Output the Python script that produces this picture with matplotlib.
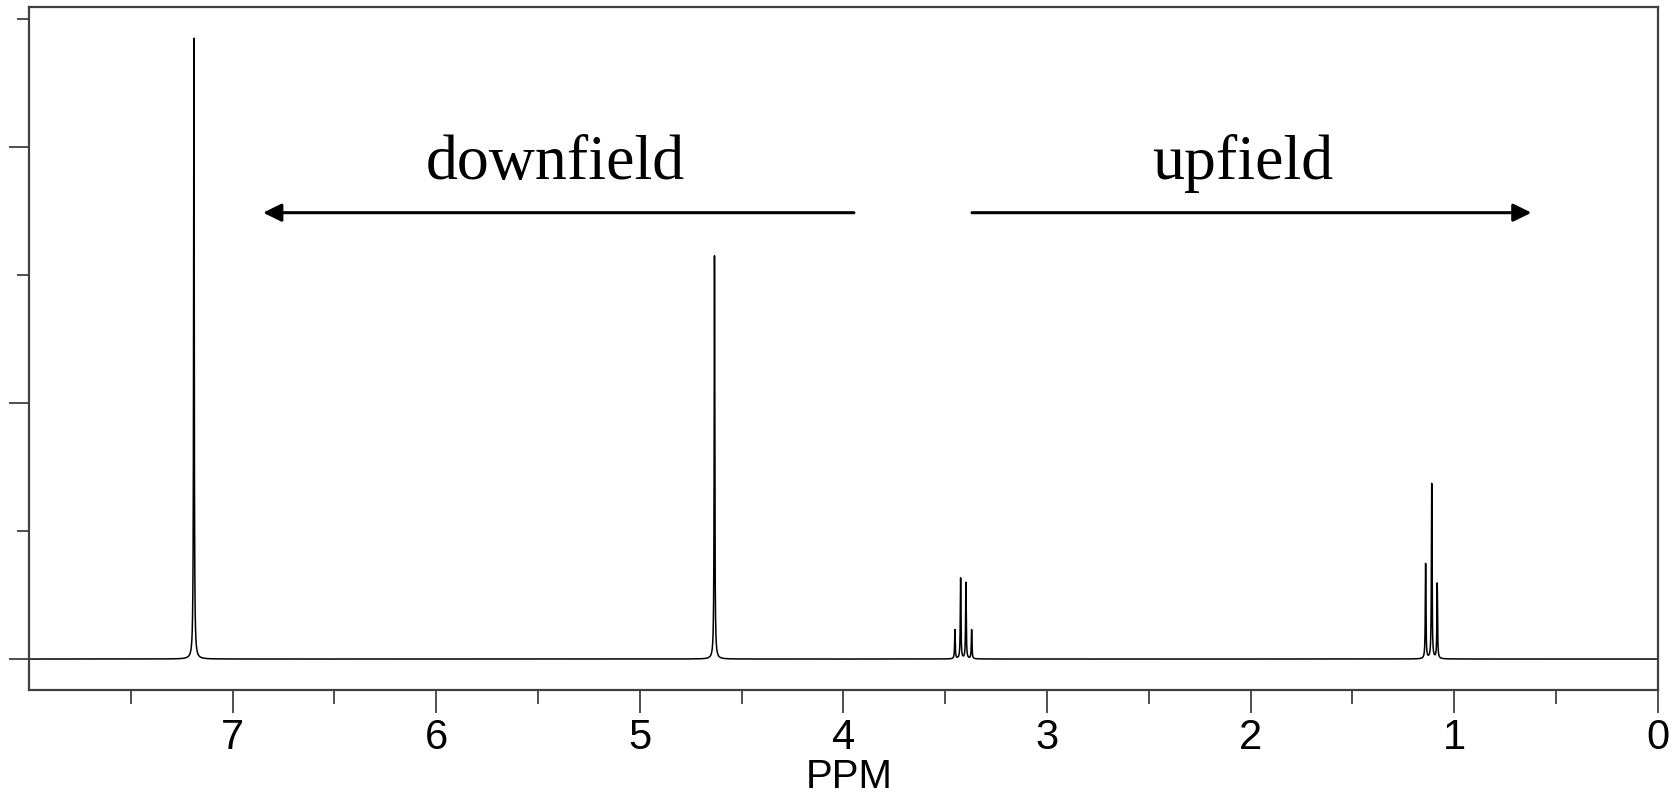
import numpy as np
import matplotlib
matplotlib.use("Agg")
import matplotlib.pyplot as plt

# Peak list (chemical shift in ppm, relative intensity)
peak_ppm = [7.190, 4.633, 3.452, 3.424, 3.398, 3.370, 1.140, 1.110, 1.083]
peak_height = [4.85, 3.15, 0.227, 0.63, 0.596, 0.227, 0.742, 1.367, 0.588]
peak_hwhm = 0.0018

x_ticks_major = [7, 6, 5, 4, 3, 2, 1, 0]
x_tick_labels = ["7", "6", "5", "4", "3", "2", "1", "0"]
x_ticks_minor = [7.5, 6.5, 5.5, 4.5, 3.5, 2.5, 1.5, 0.5]
y_ticks_major = [0, 2, 4]
y_ticks_minor = [1, 3, 5]

x_label = "PPM"
label_down = "downfield"
label_up = "upfield"

# spectrum from Lorentzian lines
ppm = np.linspace(8.0, 0.0, 80001)
intensity = np.zeros_like(ppm)
for p, h in zip(peak_ppm, peak_height):
    intensity += h / (1.0 + ((ppm - p) / peak_hwhm) ** 2)

fig = plt.figure(figsize=(16.75, 7.94), dpi=100)
ax = fig.add_axes([29 / 1675, 1 - 690 / 794, (1657.7 - 29) / 1675, (690 - 7) / 794])

ax.plot(ppm, intensity, color="black", lw=1.1)

ax.set_xlim(8.0, 0.0)
ax.set_ylim(-0.242, 5.094)

spine_color = "#404040"
for s in ax.spines.values():
    s.set_color(spine_color)
    s.set_linewidth(1.6)

ax.set_xticks(x_ticks_major)
ax.set_xticklabels(x_tick_labels, fontfamily="Liberation Sans", fontsize=30)
ax.set_xticks(x_ticks_minor, minor=True)
ax.set_yticks(y_ticks_major)
ax.set_yticks(y_ticks_minor, minor=True)
ax.set_yticklabels([])
ax.tick_params(axis="x", which="major", direction="out", length=16.5, width=1.3,
               color=spine_color, pad=4)
ax.tick_params(axis="x", which="minor", direction="out", length=10, width=1.3,
               color=spine_color)
ax.tick_params(axis="y", which="major", direction="out", length=14.5, width=1.3,
               color=spine_color)
ax.tick_params(axis="y", which="minor", direction="out", length=8.5, width=1.3,
               color=spine_color)

ax.set_xlabel(x_label, fontfamily="Liberation Sans", fontsize=29)
ax.xaxis.set_label_coords(0.5035, -0.128, transform=ax.transAxes)
ax.xaxis.label.set_va("center")

ax.text(5.417, 3.75, label_down, fontfamily="Liberation Serif", fontsize=46,
        ha="center", va="baseline")
ax.text(2.039, 3.75, label_up, fontfamily="Liberation Serif", fontsize=46,
        ha="center", va="baseline")

arrow_y = 3.487
aprops = dict(arrowstyle="-|>,head_length=0.55,head_width=0.27", lw=2.2,
              color="black", shrinkA=0, shrinkB=0, mutation_scale=20)
ax.annotate("", xy=(6.85, arrow_y), xytext=(3.948, arrow_y), arrowprops=aprops)
ax.annotate("", xy=(0.620, arrow_y), xytext=(3.368, arrow_y), arrowprops=aprops)

fig.savefig("out.png", dpi=100)
